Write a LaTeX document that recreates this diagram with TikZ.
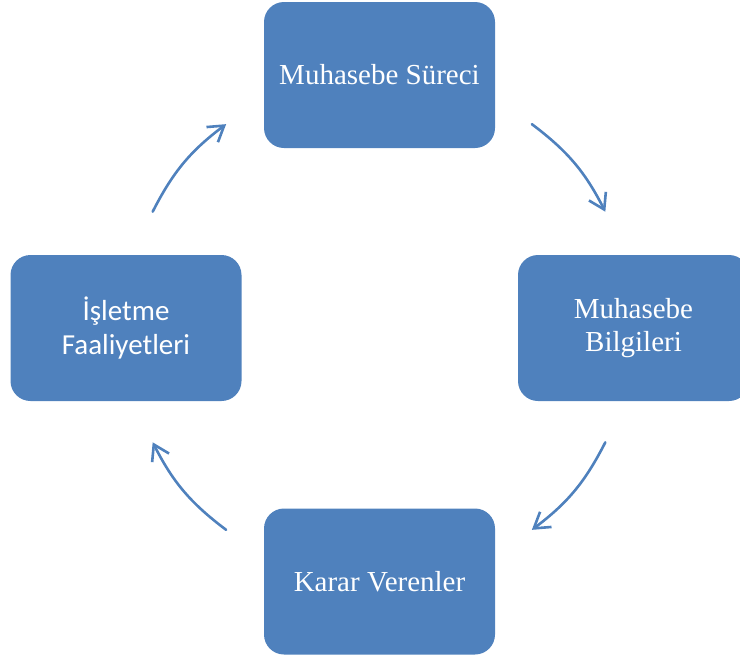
\documentclass[tikz,border=0pt]{standalone}
\usepackage{fontspec}
\setmainfont{Liberation Serif}
\newfontfamily\calib{Carlito}
\usetikzlibrary{arrows.meta}
\definecolor{boxblue}{HTML}{4F81BD}
\begin{document}
\begin{tikzpicture}[x=1pt,y=-1pt,
  stagebox/.style={draw=none, fill=boxblue, rounded corners=20pt,
    minimum width=231pt, minimum height=146pt, inner sep=0pt,
    text=white, align=center, font=\fontsize{29}{33}\selectfont},
  cyclearrow/.style={draw=boxblue, line width=2.6pt, line cap=round, line join=round,
    -{Straight Barb[length=15pt,width=19pt,line width=2.6pt]}}]
  \useasboundingbox (0,0) rectangle (740,662);

  % four stages of the cycle
  \node[stagebox] (surec)  at (379.5,75)  {Muhasebe Süreci};
  \node[stagebox] (bilgi)  at (633.5,328) {Muhasebe\\Bilgileri};
  \node[stagebox] (karar)  at (379.5,581.5) {Karar Verenler};
  \node[stagebox, font=\calib\fontsize{29}{34}\selectfont] (isletme) at (126,328) {İşletme\\Faaliyetleri};

  % end points of the arcs around the cycle centre (y axis points down)
  \coordinate (ctr) at (379,327);
  \coordinate (a1s) at ([shift={(-53:254)}]ctr);
  \coordinate (a1e) at ([shift={(-27:254)}]ctr);
  \coordinate (a2s) at ([shift={(27:254)}]ctr);
  \coordinate (a2e) at ([shift={(53:254)}]ctr);
  \coordinate (a3s) at ([shift={(127:254)}]ctr);
  \coordinate (a3e) at ([shift={(153:254)}]ctr);
  \coordinate (a4s) at ([shift={(-153:254)}]ctr);
  \coordinate (a4e) at ([shift={(-127:254)}]ctr);

  % connectors
  \draw[cyclearrow] (a1s) to[bend left=13] (a1e);
  \draw[cyclearrow] (a2s) to[bend left=13] (a2e);
  \draw[cyclearrow] (a3s) to[bend left=13] (a3e);
  \draw[cyclearrow] (a4s) to[bend left=13] (a4e);
\end{tikzpicture}
\end{document}
